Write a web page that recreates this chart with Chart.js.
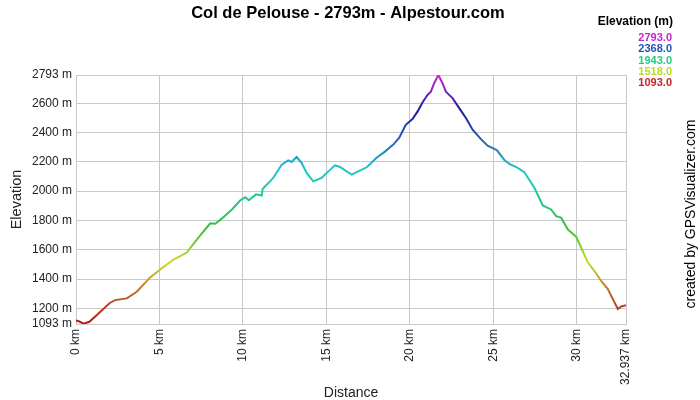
<!DOCTYPE html>
<html>
<head>
<meta charset="utf-8">
<script src="https://cdn.jsdelivr.net/npm/chart.js@4/dist/chart.umd.min.js"></script>
<style>
  html, body { margin: 0; padding: 0; background: #fff; }
  #wrap { width: 700px; height: 400px; }
</style>
</head>
<body>
<div id="wrap"><canvas id="c" width="700" height="400"></canvas></div>
<script>
// ---- data ----
const distanceKm = [0.00, 0.20, 0.45, 0.80, 1.20, 1.64, 2.00, 2.34, 3.04, 3.64, 4.44, 5.04, 5.84, 6.64, 6.94, 7.44, 8.04, 8.34, 8.74, 9.34, 9.84, 10.14, 10.35, 10.78, 11.12, 11.18, 11.62, 11.81, 12.32, 12.71, 12.91, 13.21, 13.51, 13.81, 14.21, 14.71, 15.11, 15.51, 15.81, 16.21, 16.51, 16.90, 17.41, 18.00, 18.50, 19.00, 19.35, 19.75, 20.15, 20.45, 20.75, 21.05, 21.25, 21.45, 21.70, 21.95, 22.15, 22.55, 22.95, 23.35, 23.75, 24.25, 24.65, 25.20, 25.65, 25.95, 26.45, 26.85, 27.45, 27.95, 28.45, 28.75, 29.05, 29.45, 29.95, 30.25, 30.65, 31.05, 31.45, 31.85, 32.15, 32.45, 32.65, 32.937];
const elevationM = [1118, 1110, 1095, 1108, 1150, 1195, 1235, 1256, 1268, 1313, 1411, 1465, 1532, 1581, 1626, 1698, 1780, 1778, 1814, 1875, 1938, 1958, 1938, 1978, 1970, 2016, 2067, 2091, 2181, 2210, 2199, 2233, 2193, 2125, 2067, 2091, 2135, 2176, 2165, 2135, 2113, 2135, 2163, 2228, 2270, 2318, 2363, 2453, 2492, 2543, 2605, 2657, 2679, 2737, 2793, 2737, 2679, 2635, 2567, 2499, 2419, 2355, 2310, 2280, 2213, 2186, 2159, 2129, 2023, 1902, 1875, 1829, 1819, 1739, 1689, 1615, 1513, 1455, 1387, 1331, 1263, 1195, 1213, 1222];
const xTickValues = [0, 5, 10, 15, 20, 25, 30, 32.937];
const yTickValues = [1093, 1200, 1400, 1600, 1800, 2000, 2200, 2400, 2600, 2793];
const legendValues = ["2793.0", "2368.0", "1943.0", "1518.0", "1093.0"];
const legendColors = ["#cc22cc", "#2255bb", "#22cc88", "#bbdd22", "#cc2222"];
const titleText = "Col de Pelouse - 2793m - Alpestour.com";

const FONT = "'Liberation Sans', Arial, sans-serif";
const GRID = "#c8c8c8";

function lineGradient(context) {
  const chart = context.chart;
  const area = chart.chartArea;
  if (!area) return "#22aacc";
  const ys = chart.scales.y;
  const y0 = ys.getPixelForValue(1093);
  const y1 = ys.getPixelForValue(2793);
  const g = chart.ctx.createLinearGradient(0, y0, 0, y1);
  g.addColorStop(0.00, "#b41a1e");
  g.addColorStop(0.05, "#b63222");
  g.addColorStop(0.12, "#bd6428");
  g.addColorStop(0.25, "#cadc2a");
  g.addColorStop(0.38, "#3cbf36");
  g.addColorStop(0.50, "#22c88a");
  g.addColorStop(0.62, "#22c6cc");
  g.addColorStop(0.75, "#2258b0");
  g.addColorStop(0.86, "#1c1a9c");
  g.addColorStop(0.94, "#8a22c4");
  g.addColorStop(1.00, "#cc22cc");
  return g;
}

const decorPlugin = {
  id: "decor",
  afterDraw(chart) {
    const ctx = chart.ctx;
    ctx.save();
    // title
    ctx.fillStyle = "#000";
    ctx.font = "bold 16.5px " + FONT;
    ctx.textAlign = "center";
    ctx.textBaseline = "alphabetic";
    ctx.fillText(titleText, 348, 18);
    // legend
    ctx.textAlign = "right";
    ctx.font = "bold 12px " + FONT;
    ctx.fillStyle = "#000";
    ctx.fillText("Elevation (m)", 673, 25);
    ctx.font = "bold 11px " + FONT;
    legendValues.forEach((v, i) => {
      ctx.fillStyle = legendColors[i];
      ctx.fillText(v, 672, 41 + i * 11.3);
    });
    // credit
    ctx.translate(695, 214);
    ctx.rotate(-Math.PI / 2);
    ctx.textAlign = "center";
    ctx.font = "14px " + FONT;
    ctx.fillStyle = "#000";
    ctx.fillText("created by GPSVisualizer.com", 0, 0);
    ctx.restore();
  }
};

const points = distanceKm.map((d, i) => ({ x: d, y: elevationM[i] }));

new Chart(document.getElementById("c"), {
  type: "line",
  data: {
    datasets: [{
      data: points,
      borderColor: lineGradient,
      borderWidth: 2,
      pointRadius: 0,
      tension: 0,
      fill: false
    }]
  },
  options: {
    responsive: false,
    animation: false,
    devicePixelRatio: 1,
    layout: { padding: { top: 75, right: 74, left: 0, bottom: 0 } },
    plugins: { legend: { display: false }, tooltip: { enabled: false }, title: { display: false } },
    scales: {
      x: {
        type: "linear",
        min: 0,
        max: 32.937,
        afterBuildTicks: (s) => { s.ticks = xTickValues.map(v => ({ value: v })); },
        afterFit: (s) => { s.height = 76; },
        grid: { color: GRID, drawTicks: false, lineWidth: 1 },
        border: { color: GRID },
        ticks: {
          autoSkip: false,
          maxRotation: 90,
          minRotation: 90,
          padding: 5,
          color: "#222",
          font: { family: FONT, size: 12 },
          callback: (v) => v + " km"
        },
        title: {
          display: true,
          text: "Distance",
          color: "#222",
          font: { family: FONT, size: 14, lineHeight: 1 },
          padding: { top: 0, bottom: 0 }
        }
      },
      y: {
        type: "linear",
        min: 1093,
        max: 2793,
        afterBuildTicks: (s) => { s.ticks = yTickValues.map(v => ({ value: v })); },
        afterFit: (s) => { s.width = 76; },
        grid: { color: GRID, drawTicks: false, lineWidth: 1 },
        border: { color: GRID },
        ticks: {
          autoSkip: false,
          padding: 4,
          color: "#222",
          font: { family: FONT, size: 12 },
          callback: (v) => v + " m"
        },
        title: {
          display: true,
          text: "Elevation",
          color: "#222",
          font: { family: FONT, size: 14.5, lineHeight: 1 },
          padding: { top: 10, bottom: 0 }
        }
      }
    }
  },
  plugins: [decorPlugin]
});
</script>
</body>
</html>
